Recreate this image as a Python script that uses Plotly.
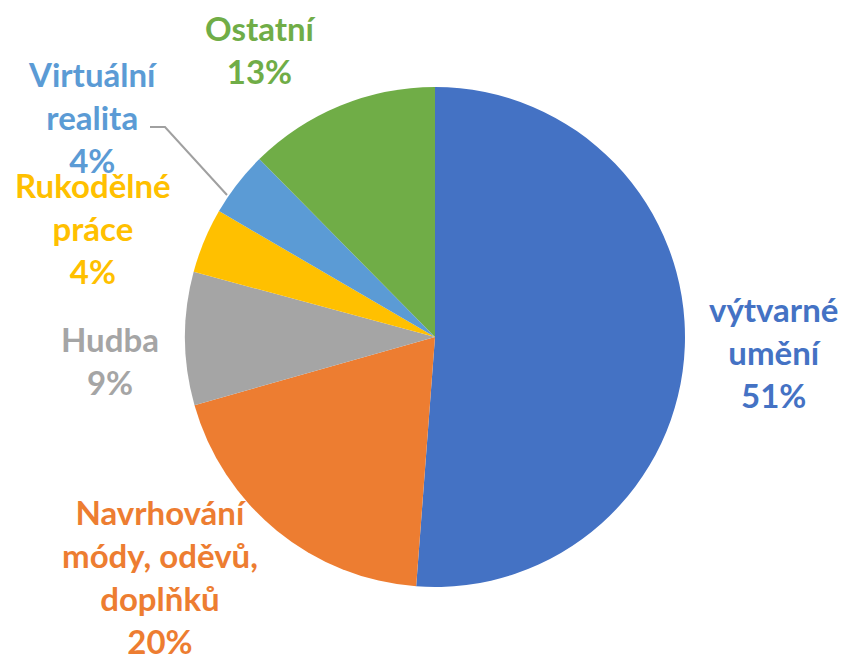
import plotly.graph_objects as go

# the page has an 8px body margin; build the figure to fill the rest of the window
OFF = 8
W, H = 847 - OFF, 655 - OFF

categories = ["výtvarné umění", "Navrhování módy, oděvů, doplňků", "Hudba",
              "Rukodělné práce", "Virtuální realita", "Ostatní"]
values = [51.2, 19.4, 8.6, 4.2, 4.2, 12.4]
percent_labels = ["51%", "20%", "9%", "4%", "4%", "13%"]
label_lines = ["výtvarné<br>umění", "Navrhování<br>módy, oděvů,<br>doplňků", "Hudba",
               "Rukodělné<br>práce", "Virtuální<br>realita", "Ostatní"]
colors = ["#4472C4", "#ED7D31", "#A5A5A5", "#FFC000", "#5B9BD5", "#70AD47"]

# label block centres in window pixels (x, y from top)
label_pos = [(773, 352), (160, 576), (110, 360), (93, 228), (93, 117), (261, 50)]

cx, cy, r = 435 - OFF, 337 - OFF, 250


def px(x):
    return (x - OFF) / W


def py(y):
    return 1 - (y - OFF) / H


fig = go.Figure(go.Pie(
    labels=categories,
    values=values,
    sort=False,
    direction="clockwise",
    rotation=0,
    marker=dict(colors=colors, line=dict(color="white", width=0)),
    textinfo="none",
    hoverinfo="label+percent",
    showlegend=False,
    domain=dict(x=[(cx - r) / W, (cx + r) / W], y=[(H - cy - r) / H, (H - cy + r) / H]),
))

font_family = "Lato, sans-serif"
annotations = []
for txt, pct, col, (lx, ly) in zip(label_lines, percent_labels, colors, label_pos):
    annotations.append(dict(
        x=px(lx), y=py(ly), xref="paper", yref="paper",
        text=f"<b>{txt}<br>{pct}</b>", showarrow=False,
        xanchor="center", yanchor="middle", align="center",
        font=dict(family=font_family, size=33, color=col),
    ))

# leader line for Virtuální realita
fig.add_shape(type="path",
              path=f"M {px(150)} {py(127)} L {px(165)} {py(127)} L {px(227)} {py(195)}",
              xref="paper", yref="paper", line=dict(color="#A0A0A0", width=2))

fig.update_layout(
    width=W, height=H,
    margin=dict(l=0, r=0, t=0, b=0),
    paper_bgcolor="white", plot_bgcolor="white",
    annotations=annotations,
)

fig.write_html("out.html")
